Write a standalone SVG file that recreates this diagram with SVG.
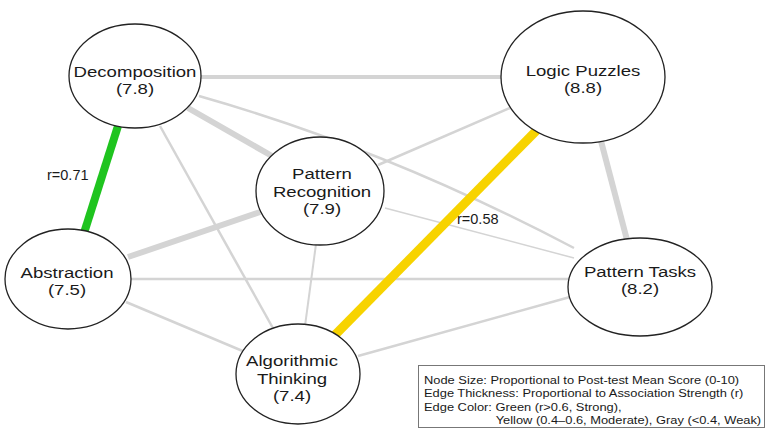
<svg xmlns="http://www.w3.org/2000/svg" width="767" height="432" viewBox="0 0 767 432">
<style>
.e{fill:none;stroke:#d4d4d4;stroke-linecap:butt}
.n ellipse{fill:#fff;stroke:#222;stroke-width:1.3}
.n text{font-family:"Liberation Sans",Arial,sans-serif;font-size:15px;fill:#1a1a1a;text-anchor:middle}
.lbl{font-family:"Liberation Sans",Arial,sans-serif;font-size:14.5px;fill:#1a1a1a}
.lg{font-family:"Liberation Sans",Arial,sans-serif;font-size:11.5px;fill:#1a1a1a}
</style>
<rect width="767" height="432" fill="#fff"/>
<g id="connectors">
<line class="e" x1="201" y1="77" x2="501" y2="77" stroke-width="4"/>
<line class="e" x1="188" y1="108" x2="272" y2="156" stroke-width="6"/>
<path class="e" d="M199,96 Q386,149 574,248" stroke-width="2.5"/>
<line class="e" x1="160" y1="126" x2="274" y2="330" stroke-width="2.5"/>
<line class="e" x1="510" y1="108" x2="378" y2="165" stroke-width="2.5"/>
<line class="e" x1="601" y1="141" x2="627" y2="240" stroke-width="6"/>
<line class="e" x1="385" y1="208" x2="574" y2="258" stroke-width="1.5"/>
<line class="e" x1="316" y1="244" x2="305" y2="326" stroke-width="2"/>
<line class="e" x1="128" y1="257" x2="260" y2="212" stroke-width="6"/>
<line class="e" x1="131" y1="279" x2="568" y2="279" stroke-width="2.5"/>
<line class="e" x1="126" y1="302" x2="245" y2="352" stroke-width="2.5"/>
<line class="e" x1="358" y1="356" x2="570" y2="297" stroke-width="2.5"/>
<line x1="118" y1="126" x2="84" y2="233" stroke="#1fc41f" stroke-width="8"/>
<line x1="537" y1="130" x2="334" y2="336" stroke="#f7d300" stroke-width="9"/>
<text class="lbl" x="47" y="180">r=0.71</text>
<text class="lbl" x="457" y="224">r=0.58</text>
</g>
<g id="decomposition" class="n">
<ellipse cx="135" cy="76" rx="66" ry="52"/>
<g transform="translate(135 0) scale(1.24 1)"><text y="77"><tspan x="0">Decomposition</tspan><tspan x="0" dy="17.5">(7.8)</tspan></text></g>
</g>
<g id="logic-puzzles" class="n">
<ellipse cx="583" cy="77" rx="82" ry="66"/>
<g transform="translate(583 0) scale(1.24 1)"><text y="76"><tspan x="0">Logic Puzzles</tspan><tspan x="0" dy="17.5">(8.8)</tspan></text></g>
</g>
<g id="pattern-recognition" class="n">
<ellipse cx="320" cy="191" rx="64" ry="54"/>
<g transform="translate(322 0) scale(1.24 1)"><text y="179.5"><tspan x="0">Pattern</tspan><tspan x="0" dy="17.5">Recognition</tspan><tspan x="0" dy="17.5">(7.9)</tspan></text></g>
</g>
<g id="abstraction" class="n">
<ellipse cx="68" cy="279" rx="63" ry="50"/>
<g transform="translate(67 0) scale(1.24 1)"><text y="278"><tspan x="0">Abstraction</tspan><tspan x="0" dy="17.5">(7.5)</tspan></text></g>
</g>
<g id="algorithmic-thinking" class="n">
<ellipse cx="298" cy="374" rx="62" ry="50"/>
<g transform="translate(292 0) scale(1.24 1)"><text y="366.5"><tspan x="0">Algorithmic</tspan><tspan x="0" dy="17.5">Thinking</tspan><tspan x="0" dy="17.5">(7.4)</tspan></text></g>
</g>
<g id="pattern-tasks" class="n">
<ellipse cx="640" cy="287" rx="72" ry="49"/>
<g transform="translate(640 0) scale(1.24 1)"><text y="277"><tspan x="0">Pattern Tasks</tspan><tspan x="0" dy="17.5">(8.2)</tspan></text></g>
</g>
<g id="legend">
<rect x="418.5" y="365.5" width="346" height="62" fill="#fff" stroke="#777" stroke-width="1"/>
<g transform="translate(424 0) scale(1.12 1)">
<text class="lg" y="384"><tspan x="0">Node Size: Proportional to Post-test Mean Score (0-10)</tspan><tspan x="0" dy="13.3">Edge Thickness: Proportional to Association Strength (r)</tspan><tspan x="0" dy="13.3">Edge Color: Green (r&gt;0.6, Strong),</tspan><tspan x="64" dy="13.3">Yellow (0.4–0.6, Moderate), Gray (&lt;0.4, Weak)</tspan></text>
</g>
</g>
</svg>
